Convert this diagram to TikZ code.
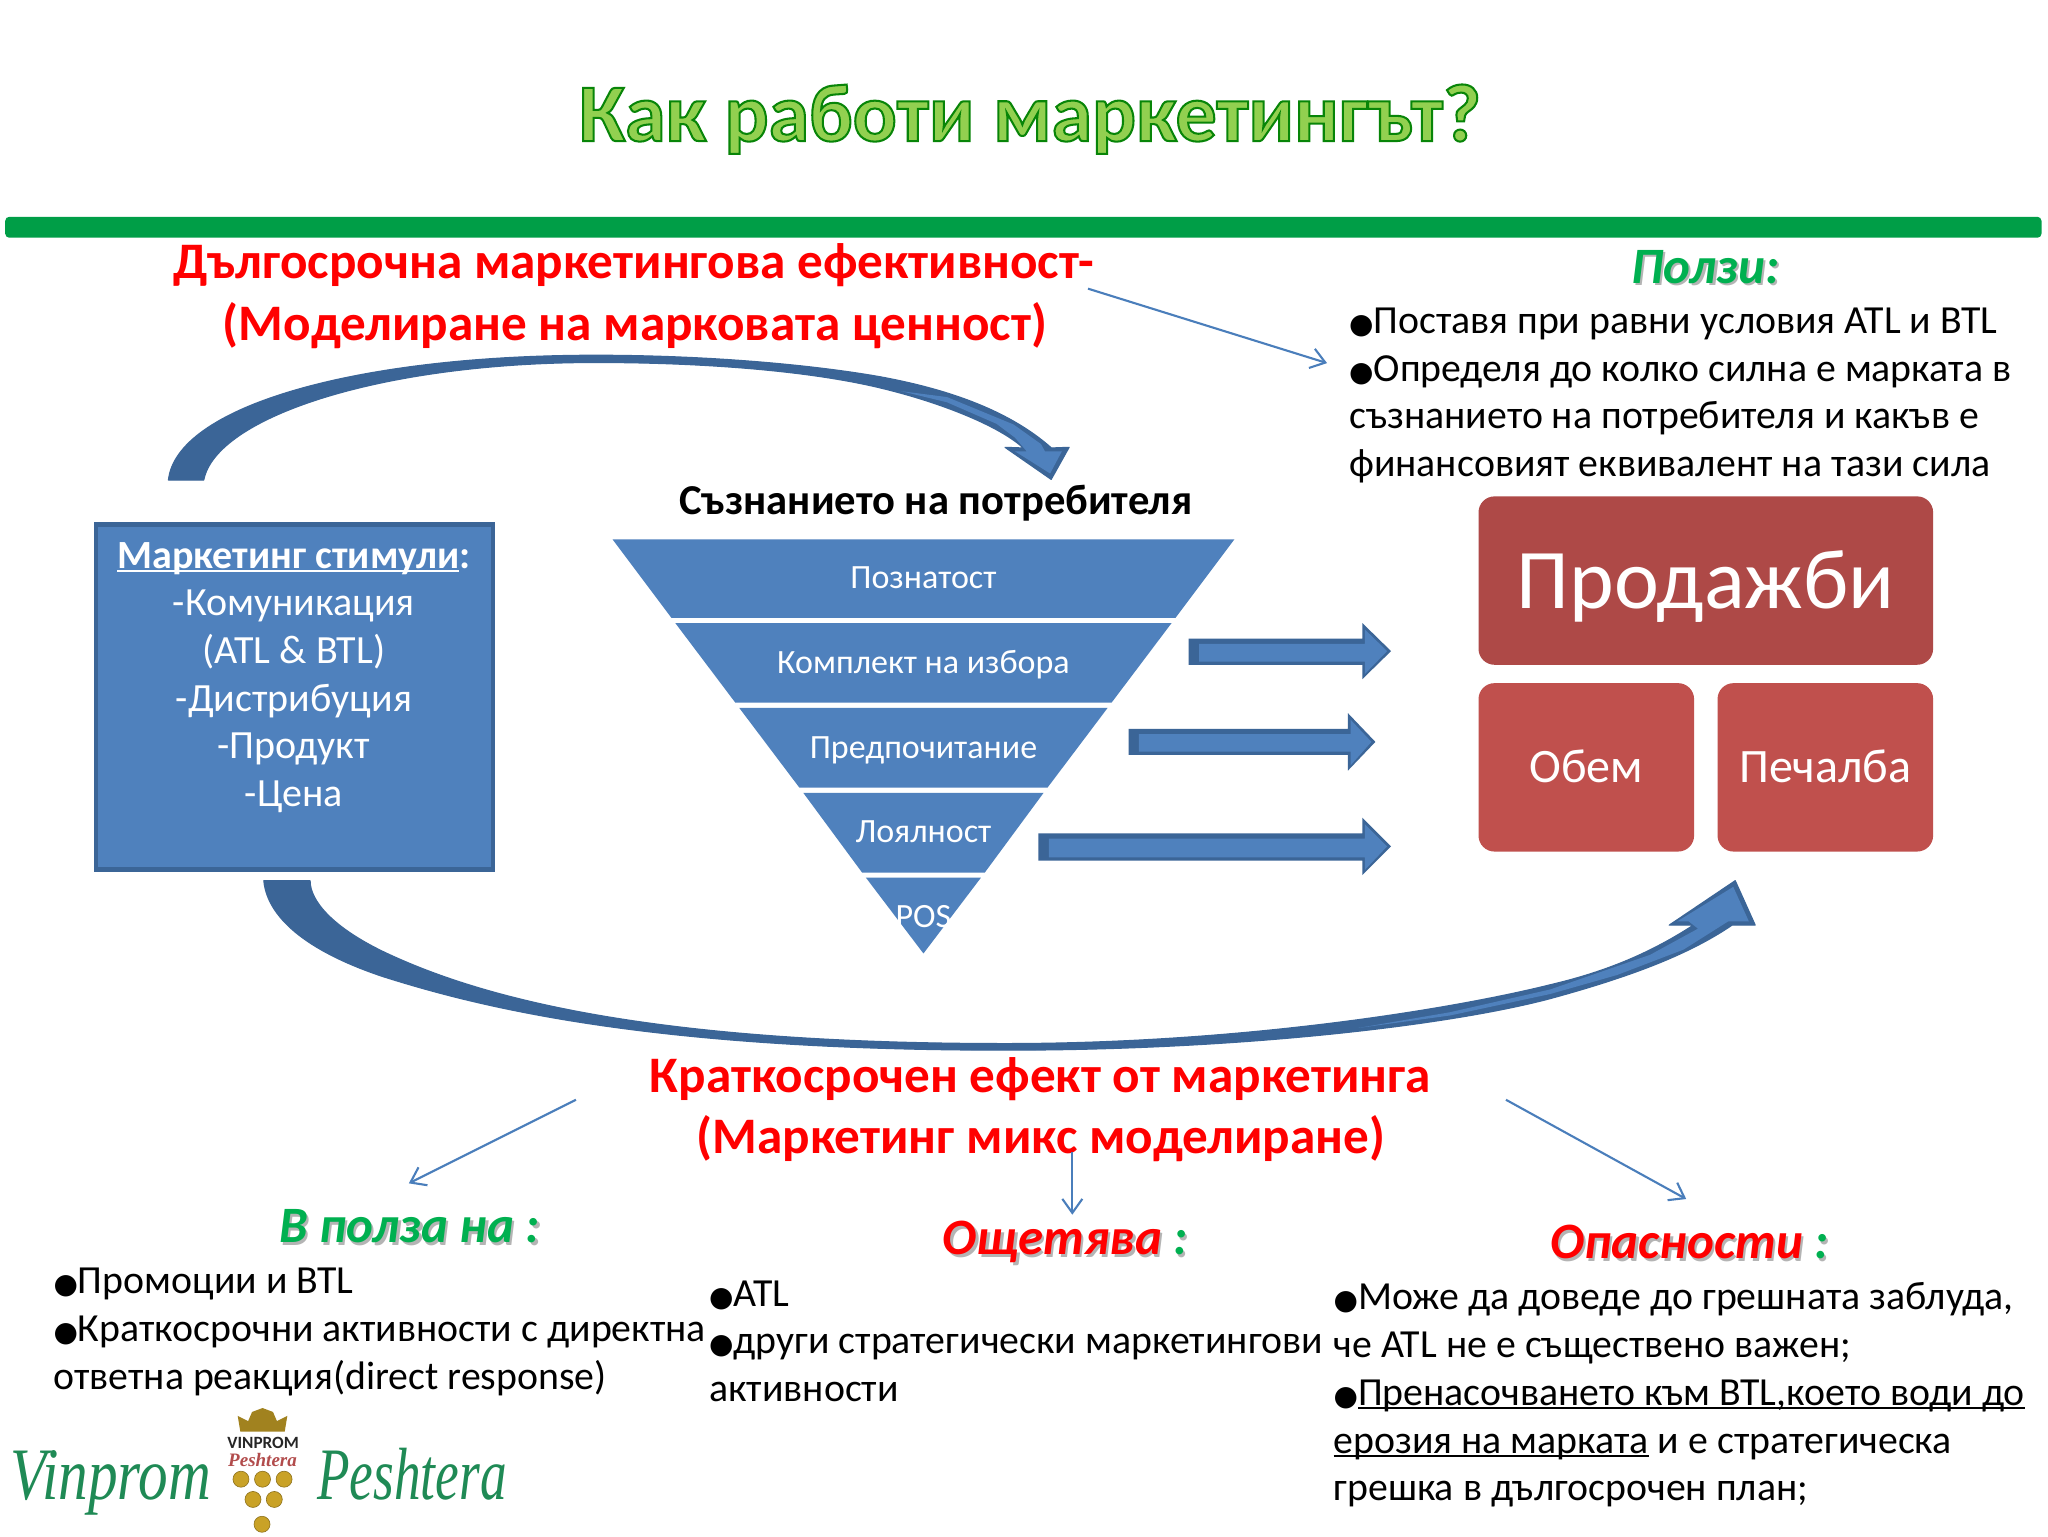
\documentclass[tikz,border=0pt]{standalone}
\usepackage{fontspec}
\setmainfont{Carlito}
\newfontfamily\bulfont{DejaVu Sans}
\newfontfamily\scriptf{Liberation Serif}
\usetikzlibrary{arrows.meta}
\definecolor{bluefill}{HTML}{4F81BD}
\definecolor{blueedge}{HTML}{3B6597}
\definecolor{thinblue}{HTML}{4A7EBB}
\definecolor{redtop}{HTML}{AE4947}
\definecolor{redbox}{HTML}{C0504D}
\definecolor{bar}{HTML}{009E47}
\definecolor{grn}{HTML}{00B050}
\definecolor{titlefill}{HTML}{92D050}
\definecolor{shad}{HTML}{B4B4B4}
\definecolor{logog}{HTML}{1F8A55}
\definecolor{gold}{HTML}{C9A227}
\newcommand\bul{{\bulfont\fontsize{14}{18}\selectfont ●}}
\newcommand\shtext[2]{\rlap{\color{shad}\kern1.2pt\raisebox{-1.2pt}{#2}}\textcolor{#1}{#2}}
\newcommand\ulx[1]{\setbox0\hbox{#1}\rlap{\rule[-1.9pt]{\wd0}{0.95pt}}\box0 }
\tikzset{
  every node/.style={inner sep=0pt,outer sep=0pt},
  body/.style={anchor=base west,font=\fontsize{19.9}{24}\selectfont,text=black},
  headred/.style={anchor=base,font=\fontsize{25.6}{28}\selectfont\bfseries,text=red},
  benefit/.style={anchor=center,font=\fontsize{25.5}{28}\selectfont\bfseries\itshape},
  fun/.style={fill=bluefill},
  funtext/.style={anchor=base,text=white,font=\fontsize{17}{19}\selectfont},
  boxtext/.style={anchor=base,text=white,font=\fontsize{20}{24}\selectfont},
  redb/.style={rounded corners=8pt,fill=redbox,text=white,minimum height=84.2pt,minimum width=107.8pt,font=\fontsize{24}{30}\selectfont},
  thin arrow/.style={draw=thinblue,line width=1.05pt,-{Straight Barb[length=7pt,width=10pt]}},
  block/.style={fill=blueedge},
  blockin/.style={fill=bluefill},
  grape/.style={fill=gold,draw=gold!70!black,line width=.3pt},
  curved/.style={fill=blueedge,draw=blueedge,line width=.6pt,line join=round},
  logotext/.style={anchor=base west,text=logog,xscale=0.8,transform shape,font=\scriptf\itshape\fontsize{37}{40}\selectfont},
}
\begin{document}
\begin{tikzpicture}[x=0.653061pt,y=-0.653061pt]
\useasboundingbox[fill=white] (0,0) rectangle (1568,1176);
% title and bar
\node[anchor=base] (title) at (788.5,108) {\fontsize{41}{46}\selectfont\bfseries\addfontfeature{FakeBold=2.5}\color{titlefill}\special{pdf:code 0.03 0.52 0.03 RG}Как работи маркетингът?};
\fill[bar,rounded corners=2pt] (4,166) rectangle (1563,182);
% red headings
\node[headred] (long1) at (485.5,213.5) {Дългосрочна маркетингова ефективност-};
\node[headred] (long2) at (486,260.5) {(Моделиране на марковата ценност)};
\node[benefit] (polzi) at (1305.5,205.5) {\shtext{grn}{Ползи:}};
\node[body] (p1) at (1033,255) {\bul Поставя при равни условия ATL и BTL};
\node[body] (p2) at (1033,292) {\bul Определя до колко силна е марката в};
\node[body] (p3) at (1033,328) {съзнанието на потребителя и какъв е};
\node[body] (p4) at (1033,365) {финансовият еквивалент на тази сила};
% thin arrows
\coordinate (a1s) at (833,221); \coordinate (a1e) at (1016,278);
\coordinate (a2s) at (441,842); \coordinate (a2e) at (313,906);
\coordinate (a3s) at (821,882); \coordinate (a3e) at (821,930);
\coordinate (a4s) at (1153,842); \coordinate (a4e) at (1291,918);
\draw[thin arrow] (a1s) -- (a1e);
% top curved arrow
\path[curved] (129,367.5) .. controls (135,312) and (270,272) .. (456,272)
  .. controls (540,272) and (620,279) .. (674,288.5)
  .. controls (720,297) and (770,312) .. (805,343)
  -- (818.5,342.5) -- (804.8,367) -- (769.5,342.5) -- (783.5,343)
  .. controls (765,326) and (720,308) .. (674,297)
  .. controls (620,284) and (540,277.5) .. (456,277.5)
  .. controls (290,277.5) and (165,320) .. (156,367.5) -- cycle;
\fill[bluefill,line join=round] (690,299.5) -- (725,304) -- (776,325) -- (797,340) -- (800,345.5) -- (813,345.5) -- (804,362.5) -- (777,345.5) -- (786,345.5) -- (777,335) -- (763,324.5) -- (725,308) -- cycle;
% consumer
\node[anchor=base,font=\fontsize{21.3}{24}\selectfont\bfseries] (mind) at (716.5,394) {Съзнанието на потребителя};
% left box
\node[draw=blueedge,fill=bluefill,line width=2.4pt,minimum width=198.5pt,minimum height=172.4pt] (stim) at (225.5,533.5) {};
\node[boxtext] (s1) at (225,435) {\textbf{\ulx{Маркетинг стимули}:}};
\node[boxtext] (s2) at (225,471) {-Комуникация};
\node[boxtext] (s3) at (225,508) {(ATL \& BTL)};
\node[boxtext] (s4) at (225,544.5) {-Дистрибуция};
\node[boxtext] (s5) at (225,581) {-Продукт};
\node[boxtext] (s6) at (225,617.5) {-Цена};
% funnel
\fill[fun] (469,413) -- (945,413) -- (900,473) -- (514,473) -- cycle;
\fill[fun] (517,477) -- (897,477) -- (851,538) -- (563,538) -- cycle;
\fill[fun] (566,542) -- (848,542) -- (802,603) -- (612,603) -- cycle;
\fill[fun] (615,607) -- (799,607) -- (754,668) -- (660,668) -- cycle;
\fill[fun] (663,672) -- (751,672) -- (707,730) -- cycle;
\node[funtext] (f1) at (707,450.5) {Познатост};
\node[funtext] (f2) at (707,515.5) {Комплект на избора};
\node[funtext] (f3) at (707,580.5) {Предпочитание};
\node[funtext] (f4) at (707,645) {Лоялност};
\node[funtext] (f5) at (707,710) {POS};
% block arrows
\fill[block] (910,489) -- (1043,489) -- (1043,477) -- (1065,498.5) -- (1043,520) -- (1043,509) -- (910,509) -- cycle;
\fill[blockin] (918,493) -- (1045,493) -- (1045,482) -- (1062,498.5) -- (1045,516) -- (1045,506.5) -- (918,506.5) -- cycle;
\fill[block] (864,558) -- (1032,558) -- (1032,546) -- (1053,568) -- (1032,590) -- (1032,578) -- (864,578) -- cycle;
\fill[blockin] (872,562) -- (1034,562) -- (1034,551) -- (1050,568) -- (1034,586) -- (1034,575.5) -- (872,575.5) -- cycle;
\fill[block] (795,638) -- (1043,638) -- (1043,626) -- (1065,648) -- (1043,670) -- (1043,659) -- (795,659) -- cycle;
\fill[blockin] (803,642) -- (1045,642) -- (1045,631) -- (1062,648) -- (1045,666) -- (1045,656.5) -- (803,656.5) -- cycle;
% red boxes
\node[redb,fill=redtop,minimum width=227.3pt,font=\fontsize{42.5}{50}\selectfont] (sales) at (1306,444.5) {\raisebox{-14pt}[0pt][0pt]{Продажби}};
\node[redb] (vol) at (1214.5,587.5) {\raisebox{-7.4pt}[0pt][0pt]{Обем}};
\node[redb] (prof) at (1397.5,587.5) {\raisebox{-7.4pt}[0pt][0pt]{Печалба}};
% bottom curved arrow
\path[curved] (202,674.3) .. controls (205,705) and (240,730) .. (293.6,747.8)
  .. controls (370,772) and (500,804) .. (770,804)
  .. controls (950,804) and (1110,785) .. (1187,764.5)
  .. controls (1240,750) and (1290,733) .. (1326,708.3)
  -- (1343.8,708.3) -- (1328.5,674.3) -- (1278,708.3) -- (1296.5,708.3)
  .. controls (1260,732) and (1225,745) .. (1186.8,754)
  .. controls (1110,773) and (950,799) .. (770,799)
  .. controls (500,799) and (370,765) .. (293.6,728.7)
  .. controls (255,710) and (237.4,690) .. (237.4,674.3) -- cycle;
\fill[bluefill,line join=round] (1040,787) -- (1110,775) -- (1187,757.5) -- (1263.4,731) -- (1300,711) -- (1293,705.5) -- (1284,705.5) -- (1327,679) -- (1339,705.5) -- (1323,705.5) -- (1289,727) -- (1238,746.5) -- (1187,761) -- (1110,777.5) -- cycle;
% short-term headings
\node[headred] (short1) at (796.5,836.5) {Краткосрочен ефект от маркетинга};
\node[headred] (short2) at (797,883.5) {(Маркетинг микс моделиране)};
\node[benefit] (favor) at (313.5,940) {\shtext{grn}{В полза на :}};
\node[benefit] (hurt) at (815.5,952) {\shtext{red}{Ощетява} \shtext{grn}{:}};
\node[benefit] (danger) at (1293.5,952) {\shtext{red}{Опасности} \shtext{grn}{:}};
\draw[thin arrow] (a2s) -- (a2e);
\draw[thin arrow] (a3s) -- (a3e);
\draw[thin arrow] (a4s) -- (a4e);
% lists
\node[body] (l1) at (41,990) {\bul Промоции и BTL};
\node[body] (l2) at (41,1027) {\bul Краткосрочни активности с директна};
\node[body] (l3) at (41,1064) {ответна реакция(direct response)};
\node[body] (m1) at (543,1000) {\bul ATL};
\node[body] (m2) at (543,1036) {\bul други стратегически маркетингови};
\node[body] (m3) at (543,1073) {активности};
\node[body] (r1) at (1021,1002.5) {\bul Може да доведе до грешната заблуда,};
\node[body] (r2) at (1021,1039) {че ATL не е съществено важен;};
\node[body] (r3) at (1021,1076) {\bul \ulx{Пренасочването към BTL,което води до}};
\node[body] (r4) at (1021,1112.5) {\ulx{ерозия на марката} и е стратегическа};
\node[body] (r5) at (1021,1149) {грешка в дългосрочен план;};
% logo
\node[logotext] (lg1) at (8,1148) {Vinprom};
\node[logotext,xscale=0.9] (lg2) at (243,1148) {Peshtera};
\fill[gold!80!black] (184,1096) -- (182,1084) -- (190,1088) -- (193,1081) -- (201,1078) -- (209,1081) -- (212,1088) -- (220,1084) -- (218,1096) -- cycle;
\node[anchor=center,font=\fontsize{8.6}{9}\selectfont\bfseries,text=black!85] (lg3) at (201.5,1105) {VINPROM};
\node[anchor=center,font=\scriptf\itshape\bfseries\fontsize{9.5}{10}\selectfont,text=red!40!gray] (lg4) at (201,1118) {Peshtera};
\foreach \gx/\gy in {184.5/1132.5,201/1132.5,217.5/1132.5,193.7/1148,210/1148,200.6/1167}
  \fill[grape] (\gx,\gy) circle (4pt);
\end{tikzpicture}
\end{document}
